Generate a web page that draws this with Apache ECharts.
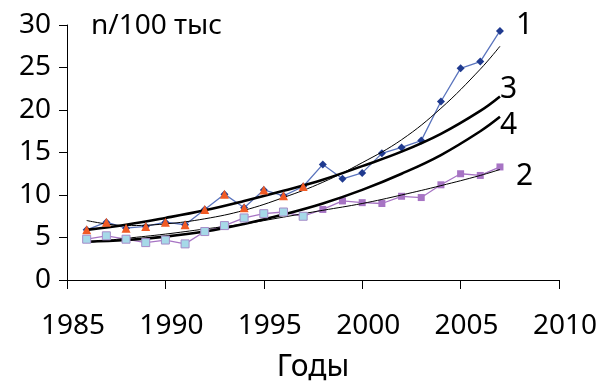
<!DOCTYPE html>
<html>
<head>
<meta charset="utf-8">
<script src="https://cdn.jsdelivr.net/npm/echarts@6/dist/echarts.min.js"></script>
<style>
  html, body { margin: 0; padding: 0; background: #fff; }
  #chart { width: 605px; height: 387px; }
</style>
</head>
<body>
<div id="chart"></div>
<script>
// data
const years = [1986, 1987, 1988, 1989, 1990, 1991, 1992, 1993, 1994, 1995, 1996,
  1997, 1998, 1999, 2000, 2001, 2002, 2003, 2004, 2005, 2006, 2007]
const series1 = [5.9, 6.8, 6.1, 6.3, 6.8, 6.5, 8.3, 10.1, 8.5, 10.6, 9.9,
  11.0, 13.6, 11.9, 12.6, 14.9, 15.6, 16.4, 21.0, 24.9, 25.7, 29.3]
const series2 = [4.8, 5.2, 4.8, 4.4, 4.7, 4.25, 5.7, 6.4, 7.3, 7.8, 8.0,
  7.5, 8.3, 9.3, 9.1, 9.0, 9.85, 9.7, 11.2, 12.5, 12.3, 13.3]
const earlyYears = [1986, 1987, 1988, 1989, 1990, 1991, 1992, 1993, 1994, 1995, 1996, 1997]
const series3 = [5.9, 6.8, 6.1, 6.3, 6.8, 6.5, 8.3, 10.1, 8.5, 10.6, 9.9, 11.0]
const series4 = [4.8, 5.2, 4.8, 4.4, 4.7, 4.25, 5.7, 6.4, 7.3, 7.8, 8.0, 7.5]

// trend lines, read at every second year
const trendYears = [1986, 1988, 1990, 1992, 1994, 1996, 1998, 2000, 2002, 2004, 2006, 2007]
const trend1 = [7.0, 6.4, 6.6, 7.2, 8.2, 9.7, 11.5, 13.8, 16.5, 20.2, 24.8, 27.5]
const trend2 = [4.4, 4.9, 5.4, 6.0, 6.6, 7.4, 8.2, 9.0, 10.0, 11.1, 12.3, 13.0]
const trend3 = [5.9, 6.5, 7.3, 8.2, 9.3, 10.5, 11.8, 13.4, 15.1, 17.2, 19.9, 21.6]
const trend4 = [4.5, 4.7, 5.1, 5.7, 6.6, 7.7, 9.0, 10.6, 12.5, 14.7, 17.5, 19.2]

const xTicks = ['1985', '1990', '1995', '2000', '2005', '2010']
const yTicks = ['0', '5', '10', '15', '20', '25', '30']

const font = 'Noto Sans'

function pairs (xs, ys) {
  return xs.map((x, i) => [x, ys[i]])
}

function trend (ys, width) {
  return {
    type: 'line',
    data: pairs(trendYears, ys),
    smooth: 0.4,
    symbol: 'none',
    z: 4,
    lineStyle: { color: '#000', width: width }
  }
}

const chart = echarts.init(document.getElementById('chart'))
chart.setOption({
  animation: false,
  backgroundColor: '#fff',
  grid: { left: 67, right: 46, top: 25, bottom: 103 },
  xAxis: {
    type: 'value',
    min: 1985,
    max: 2010,
    interval: 5,
    name: 'Годы',
    nameLocation: 'middle',
    nameGap: 72,
    nameTextStyle: { fontFamily: font, fontSize: 30, color: '#000' },
    axisLine: { onZero: false, lineStyle: { color: '#000', width: 1 } },
    axisTick: { show: true, length: 9, lineStyle: { color: '#000' } },
    splitLine: { show: false },
    axisLabel: {
      margin: 32,
      fontFamily: font,
      fontSize: 28,
      color: '#000',
      padding: [0, 0, 0, 12],
      formatter: v => xTicks[(v - 1985) / 5]
    }
  },
  yAxis: {
    type: 'value',
    min: 0,
    max: 30,
    interval: 5,
    axisLine: { show: true, lineStyle: { color: '#000', width: 1 } },
    axisTick: { show: true, length: 8, lineStyle: { color: '#000' } },
    splitLine: { show: false },
    axisLabel: {
      margin: 16,
      fontFamily: font,
      fontSize: 28,
      color: '#000',
      padding: [12, 0, 0, 0],
      formatter: v => yTicks[v / 5]
    }
  },
  graphic: [
    { type: 'text', left: 91, top: 12, style: { text: 'n/100 тыс', fontFamily: font, fontSize: 28, fill: '#000' } },
    { type: 'text', left: 516, top: 10, style: { text: '1', fontFamily: font, fontSize: 30, fill: '#000' } },
    { type: 'text', left: 500, top: 74, style: { text: '3', fontFamily: font, fontSize: 30, fill: '#000' } },
    { type: 'text', left: 500, top: 110, style: { text: '4', fontFamily: font, fontSize: 30, fill: '#000' } },
    { type: 'text', left: 516, top: 161, style: { text: '2', fontFamily: font, fontSize: 30, fill: '#000' } }
  ],
  series: [
    {
      type: 'line',
      data: pairs(years, series1),
      symbol: 'diamond',
      symbolSize: 8,
      z: 3,
      itemStyle: { color: '#1f3a8f' },
      lineStyle: { color: '#5a74bd', width: 1.3 }
    },
    {
      type: 'line',
      data: pairs(years, series2),
      symbol: 'rect',
      symbolSize: 7,
      z: 3,
      itemStyle: { color: '#a774c4' },
      lineStyle: { color: '#a774c4', width: 1.3 }
    },
    trend(trend1, 1),
    trend(trend2, 1),
    trend(trend3, 2.6),
    trend(trend4, 2.6),
    {
      type: 'line',
      data: pairs(earlyYears, series3),
      symbol: 'triangle',
      symbolSize: 9,
      z: 6,
      lineStyle: { width: 0 },
      itemStyle: { color: '#f15a24' }
    },
    {
      type: 'line',
      data: pairs(earlyYears, series4),
      symbol: 'rect',
      symbolSize: 8,
      z: 6,
      lineStyle: { width: 0 },
      itemStyle: { color: '#a6d9e8', borderColor: '#a58cc8', borderWidth: 1 }
    }
  ]
})
</script>
</body>
</html>
